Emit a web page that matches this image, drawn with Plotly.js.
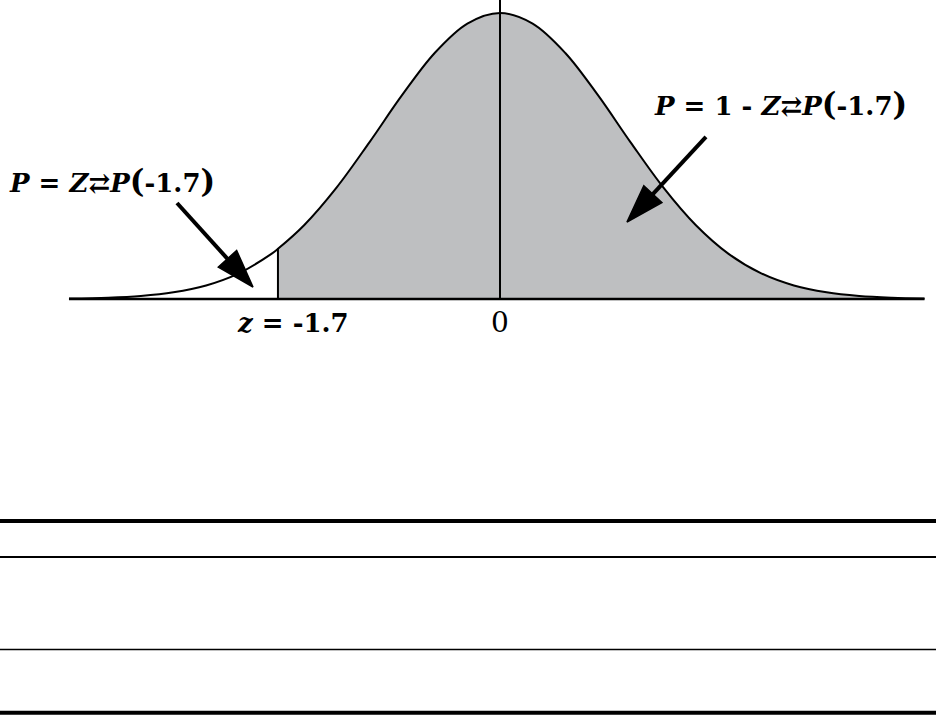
<!DOCTYPE html>
<html>
<head>
<meta charset="utf-8">
<script src="https://cdn.plot.ly/plotly-3.0.1.min.js"></script>
<style>html,body{margin:0;padding:0;background:#fff;}#chart{width:936px;height:715px;}</style>
</head>
<body>
<div id="chart"></div>
<script>
// z values and curve heights
const zVals = [-3.3, -3.0, -2.75, -2.5, -2.25, -2.0, -1.75, -1.7, -1.5, -1.25, -1.0, -0.75, -0.5, -0.25, 0,
               0.25, 0.5, 0.75, 1.0, 1.25, 1.5, 1.75, 2.0, 2.25, 2.5, 2.75, 3.0, 3.25];
const density = [0.0006, 0.0018, 0.0042, 0.0093, 0.0189, 0.0358, 0.0630, 0.0700, 0.1029, 0.1557, 0.2185, 0.2843, 0.3432, 0.3842, 0.3990,
                 0.3842, 0.3432, 0.2843, 0.2185, 0.1557, 0.1029, 0.0630, 0.0358, 0.0189, 0.0093, 0.0042, 0.0018, 0.0007];
const zCut = -1.7;
const zLabel = "z = -1.7";
const zeroLabel = "0";

const shadeX = [], shadeY = [];
zVals.forEach((z, i) => { if (z >= zCut) { shadeX.push(z); shadeY.push(density[i]); } });
const cutHeight = density[zVals.indexOf(zCut)];

const FONT = "DejaVu Serif";
const arrowMarker = { symbol: "arrow", angleref: "previous", size: [0, 40], color: "#000", opacity: 1,
                      line: { width: 1.5, color: "#000" } };

const traces = [
  { x: shadeX, y: shadeY, type: "scatter", mode: "lines", fill: "tozeroy",
    fillcolor: "#bebfc1", line: { width: 0, color: "rgba(0,0,0,0)", shape: "spline" }, hoverinfo: "skip" },
  { x: zVals, y: density, type: "scatter", mode: "lines",
    line: { width: 2, color: "#000", shape: "spline" }, hoverinfo: "skip" },
  // arrows (annotation pointers)
  { x: [-2.473, -1.891], y: [0.1339, 0.0167], type: "scatter", mode: "lines+markers", opacity: 1,
    line: { width: 4, color: "#000" }, marker: arrowMarker, hoverinfo: "skip" },
  { x: [1.577, 0.972], y: [0.2260, 0.1074], type: "scatter", mode: "lines+markers", opacity: 1,
    line: { width: 4, color: "#000" }, marker: arrowMarker, hoverinfo: "skip" }
];

const bigParen = (c) => "<span style=\"font-size:31px\">" + c + "</span>";

const layout = {
  width: 936, height: 715,
  margin: { l: 0, r: 0, t: 0, b: 0 },
  paper_bgcolor: "#fff", plot_bgcolor: "#fff",
  showlegend: false,
  xaxis: { range: [-3.828, 3.338], visible: false, fixedrange: true },
  yaxis: { range: [-0.5804, 0.4171], visible: false, fixedrange: true },
  shapes: [
    { type: "line", xref: "x", yref: "y", x0: zVals[0], x1: zVals[zVals.length - 1], y0: 0, y1: 0, line: { color: "#000", width: 2.5 } },
    { type: "line", xref: "x", yref: "y", x0: 0, x1: 0, y0: 0, y1: 0.4171, line: { color: "#000", width: 2 } },
    { type: "line", xref: "x", yref: "y", x0: zCut, x1: zCut, y0: 0, y1: cutHeight, line: { color: "#000", width: 2 } },
    { type: "line", xref: "paper", yref: "paper", x0: 0, x1: 1, y0: 0.2713, y1: 0.2713, line: { color: "#000", width: 4 } },
    { type: "line", xref: "paper", yref: "paper", x0: 0, x1: 1, y0: 0.2210, y1: 0.2210, line: { color: "#000", width: 2 } },
    { type: "line", xref: "paper", yref: "paper", x0: 0, x1: 1, y0: 0.09161, y1: 0.09161, line: { color: "#000", width: 1.5 } },
    { type: "line", xref: "paper", yref: "paper", x0: 0, x1: 1, y0: 0.0032, y1: 0.0032, line: { color: "#000", width: 4 } }
  ],
  annotations: [
    { x: -2.971, y: 0.1646, xref: "x", yref: "y", showarrow: false, xanchor: "center", yanchor: "middle",
      text: "<b><i>P</i> = <i>Z</i>⇄<i>P</i>" + bigParen("(") + "-1.7" + bigParen(")") + "</b>",
      font: { family: FONT, size: 26, color: "#000" } },
    { x: 2.144, y: 0.272, xref: "x", yref: "y", showarrow: false, xanchor: "center", yanchor: "middle",
      text: "<b><i>P</i> = 1 - <i>Z</i>⇄<i>P</i>" + bigParen("(") + "-1.7" + bigParen(")") + "</b>",
      font: { family: FONT, size: 26, color: "#000" } },
    { x: -1.585, y: -0.0335, xref: "x", yref: "y", showarrow: false, xanchor: "center", yanchor: "middle",
      text: "<b><i>z</i> = -1.7</b>", font: { family: FONT, size: 26, color: "#000" } },
    { x: 0, y: -0.0335, xref: "x", yref: "y", showarrow: false, xanchor: "center", yanchor: "middle",
      text: zeroLabel, font: { family: FONT, size: 28, color: "#000" } }
  ]
};

Plotly.newPlot("chart", traces, layout, { displayModeBar: false, staticPlot: true });
</script>
</body>
</html>
